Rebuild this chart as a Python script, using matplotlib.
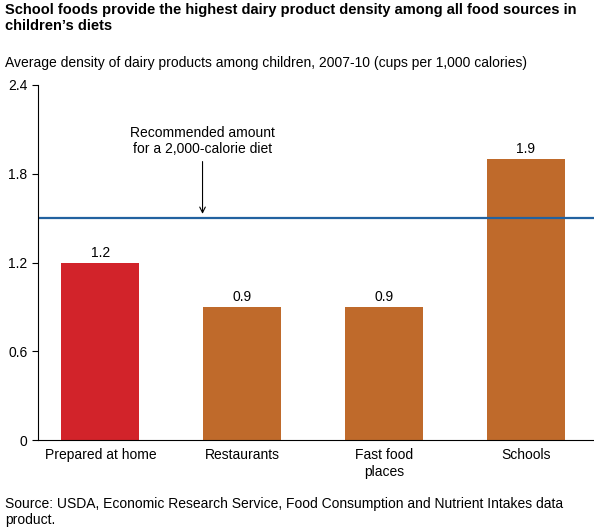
import matplotlib.pyplot as plt

plt.rcParams['font.family'] = ['Liberation Sans', 'DejaVu Sans']

categories = ['Prepared at home', 'Restaurants', 'Fast food\nplaces', 'Schools']
values = [1.2, 0.9, 0.9, 1.9]
labels = ['1.2', '0.9', '0.9', '1.9']
colors = ['#d2232a', '#bf6a2b', '#bf6a2b', '#bf6a2b']
recommended = 1.5

fig = plt.figure(figsize=(5.94, 5.31), dpi=100)
ax = fig.add_axes([38/594, 1-440/531, 1-38/594, 355/531])

x = range(len(categories))
ax.bar(x, values, width=0.55, color=colors)
for xi, v, lab in zip(x, values, labels):
    ax.text(xi, v + 0.02, lab, ha='center', va='bottom', fontsize=10)

ax.axhline(recommended, color='#2262a0', lw=1.6)
ax.annotate('Recommended amount\nfor a 2,000-calorie diet', xy=(0.72, recommended + 0.01),
            xytext=(0.72, 1.92), ha='center', va='bottom', fontsize=10,
            arrowprops=dict(arrowstyle='->', color='black', lw=0.8))

ax.set_xlim(-0.44, 3.48)
ax.set_ylim(0, 2.4)
ax.set_yticks([0, 0.6, 1.2, 1.8, 2.4])
ax.set_yticklabels(['0', '0.6', '1.2', '1.8', '2.4'])
ax.set_xticks(list(x))
ax.set_xticklabels(categories, fontsize=10, va='top')
ax.tick_params(axis='x', length=0, pad=6)
ax.tick_params(axis='y', labelsize=10, length=4, direction='out')
for s in ['top', 'right']:
    ax.spines[s].set_visible(False)

fig.text(0.008, 0.995, 'School foods provide the highest dairy product density among all food sources in\nchildren\u2019s diets',
         ha='left', va='top', fontsize=10.5, fontweight='bold', linespacing=1.2)
fig.text(0.008, 0.882, 'Average density of dairy products among children, 2007-10 (cups per 1,000 calories)',
         ha='left', va='center', fontsize=10)
fig.text(0.008, 0.008, 'Source: USDA, Economic Research Service, Food Consumption and Nutrient Intakes data\nproduct.',
         ha='left', va='bottom', fontsize=10, linespacing=1.2)

fig.savefig('out.png', dpi=100)
